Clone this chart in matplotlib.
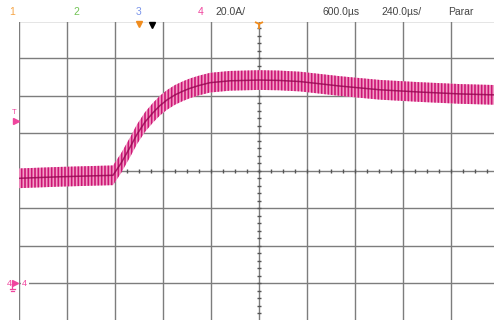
import matplotlib
matplotlib.use("Agg")
import matplotlib.pyplot as plt
import numpy as np

# ---- data (channel 4 current, 20 A/div, 240 us/div) ----
time_us = [-1200, -1100, -1000, -900, -800, -730, -690, -645, -610, -570, -530,
           -495, -460, -420, -380, -345, -300, -245, -145, 0, 100, 205, 405,
           605, 805, 1005, 1175]
current_A = [56.0, 56.4, 56.8, 57.1, 57.4, 57.6, 64.0, 72.5, 79.5, 86.0, 91.0,
             94.8, 97.8, 100.5, 102.5, 104.0, 105.5, 107.0, 108.0, 108.4, 108.2,
             107.6, 105.2, 103.2, 102.0, 101.0, 100.5]
ripple_pp_A = 10.5

header_texts = ["1", "2", "3", "4", "20.0A/", "600.0µs", "240.0µs/", "Parar"]
header_x = [12, 76, 139, 201, 215, 322, 381, 448]
header_colors = ["#f5a445", "#72c455", "#7b95ea", "#f0459e", "#444444", "#444444", "#444444", "#444444"]
header_ha = ["center", "center", "center", "center", "left", "left", "left", "left"]

volts_div = 20.0
time_div = 240.0

W, H = 494, 320
fig = plt.figure(figsize=(W / 100, H / 100), dpi=100)
plt.rcParams['hatch.linewidth'] = 1.2
plt.rcParams['hatch.color'] = '#cc1575'

# data axes: left grid edge at x=19px, top grid line at y=21.5px, ground (0 A) at y=283.3px
px_per_div_y = 37.5
top_px = 21.5
y_top = (283.3 - top_px) / px_per_div_y * volts_div
y_bot = (283.3 - H) / px_per_div_y * volts_div
ax = fig.add_axes([19 / W, 0, (W - 19) / W, (H - top_px) / H])
ax.set_xlim(-1200, (W - 259) / 48 * time_div)
ax.set_ylim(y_bot, y_top)
ax.set_axis_off()

gcol = '#7d7d7d'
for k in range(0, 11):
    ax.axvline(-1200 + k * time_div, color=gcol, lw=1.0, zorder=1)
for k in range(-1, 8):
    ax.axhline(k * volts_div, color=gcol, lw=1.0, zorder=1)

# center axis minor ticks
tx = np.arange(-1200, 1200, time_div / 4)
ax.plot(tx, np.full_like(tx, 60.0), ls='none', marker='|', ms=3, mew=1.0, color='#555555', zorder=2)
ty = np.arange(-20, 141, volts_div / 5)
ax.plot(np.zeros_like(ty), ty, ls='none', marker='_', ms=3, mew=1.0, color='#555555', zorder=2)

t = np.array(time_us, dtype=float)
i = np.array(current_A, dtype=float)
ax.fill_between(t, i - ripple_pp_A / 2, i + ripple_pp_A / 2, facecolor='#f2a0c6',
                edgecolor='#cc1575', hatch='|||||', lw=0, zorder=3)
ax.plot(t, i, color='#950550', lw=1.1, alpha=0.8, zorder=4)

# overlay in pixel coordinates for scope annotations
ov = fig.add_axes([0, 0, 1, 1], zorder=5)
ov.set_xlim(0, W)
ov.set_ylim(H, 0)
ov.set_axis_off()
ov.patch.set_alpha(0)

for txt, x, c, ha in zip(header_texts, header_x, header_colors, header_ha):
    ov.text(x, 12, txt, color=c, ha=ha, va='center', fontsize=7.5, family='Liberation Sans')

# markers at the top
ov.plot([139], [24], marker='v', ms=5, color='#f08c1e', ls='none', clip_on=False)
ov.plot([152], [25], marker='v', ms=5, color='black', ls='none', clip_on=False)
ov.plot([259], [24], marker='1', ms=7, mew=1.3, color='#f08c1e', ls='none', clip_on=False)

# trigger level marker on the left
ov.text(14, 112, "T", color='#f0459e', ha='center', va='center', fontsize=5.5, family='Liberation Sans')
ov.plot([16], [121], marker='>', ms=4.5, color='#f0459e', ls='none')

# ground marker for channel 4
ov.add_patch(plt.Rectangle((20.5, 278), 8, 10, facecolor='white', edgecolor='none', zorder=2))
ov.text(9, 283, "4", color='#f0459e', ha='center', va='center', fontsize=6.5, family='Liberation Sans')
ov.plot([15], [283], marker='>', ms=4, color='#f0459e', ls='none')
ov.plot([12, 12], [285, 289], color='#f0459e', lw=0.9)
ov.plot([9.5, 14.5], [289, 289], color='#f0459e', lw=0.9)
ov.plot([10.5, 13.5], [291, 291], color='#f0459e', lw=0.9)
ov.text(24.5, 283, "4", color='#f0459e', ha='center', va='center', fontsize=6.5, family='Liberation Sans', zorder=3)

fig.savefig("out.png", dpi=100, facecolor='white')
